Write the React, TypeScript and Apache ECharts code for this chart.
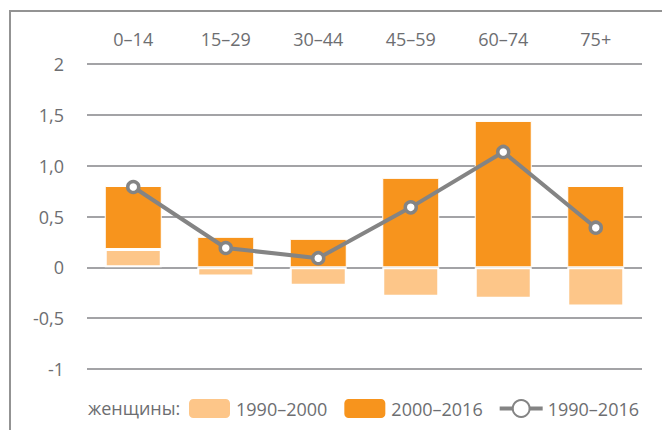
import React, { useEffect, useRef } from "react";
import * as echarts from "echarts";

const categories = ["0–14", "15–29", "30–44", "45–59", "60–74", "75+"];
const series1990_2000 = [0.18, -0.09, -0.18, -0.29, -0.31, -0.385];
const series2000_2016 = [0.62, 0.3, 0.28, 0.88, 1.44, 0.8];
const series1990_2016 = [0.79, 0.19, 0.09, 0.59, 1.135, 0.39];
const yTickLabels: Record<string, string> = {
  "2": "2",
  "1.5": "1,5",
  "1": "1,0",
  "0.5": "0,5",
  "0": "0",
  "-0.5": "-0,5",
  "-1": "-1",
};
const legendNames = ["1990–2000", "2000–2016", "1990–2016"];
const legendPrefix = "женщины:";

const TEXT = "#6d6e71";
const GRID = "#a3a3a6";
const FRAME = "#939393";
const LIGHT = "#fdc689";
const DARK = "#f7941d";
const LINE = "#848484";
const FONT = "Open Sans";

export default function App() {
  const ref = useRef<HTMLDivElement>(null);
  useEffect(() => {
    if (!ref.current) return;
    const chart = echarts.init(ref.current, null, { renderer: "svg" });
    chart.setOption({
      animation: false,
      backgroundColor: "#ffffff",
      textStyle: { fontFamily: FONT },
      grid: { left: 87, right: 20, top: 64, bottom: 61 },
      xAxis: {
        type: "category",
        position: "top",
        data: categories,
        axisLine: { show: false },
        axisTick: { show: false },
        axisLabel: { color: TEXT, fontSize: 18, fontFamily: FONT, margin: 16 },
        splitLine: { show: false },
      },
      yAxis: {
        type: "value",
        min: -1,
        max: 2,
        interval: 0.5,
        axisLine: { show: false },
        axisTick: { show: false },
        axisLabel: {
          color: TEXT,
          fontSize: 18,
          fontFamily: FONT,
          margin: 23,
          formatter: (v: number) => yTickLabels[String(v)] ?? String(v),
        },
        splitLine: { show: true, lineStyle: { color: GRID, width: 2 } },
      },
      legend: {
        left: 187,
        top: 397,
        padding: 0,
        itemWidth: 43,
        itemHeight: 21,
        itemGap: 15,
        data: legendNames,
        lineStyle: { width: 4, color: LINE },
        textStyle: { color: TEXT, fontSize: 18, fontFamily: FONT },
      },
      graphic: [
        {
          type: "line",
          shape: { x1: 9, y1: 11, x2: 662, y2: 11 },
          style: { stroke: FRAME, lineWidth: 2 },
        },
        {
          type: "line",
          shape: { x1: 10, y1: 11, x2: 10, y2: 430 },
          style: { stroke: FRAME, lineWidth: 2 },
        },
        {
          type: "text",
          left: 88,
          top: 397,
          style: {
            text: legendPrefix,
            fill: TEXT,
            font: `18px "${FONT}"`,
            lineHeight: 21,
          },
        },
      ],
      series: [
        {
          name: legendNames[0],
          type: "bar",
          stack: "total",
          barWidth: 57,
          data: series1990_2000,
          itemStyle: { color: LIGHT, borderColor: "#ffffff", borderWidth: 2 },
        },
        {
          name: legendNames[1],
          type: "bar",
          stack: "total",
          barWidth: 57,
          data: series2000_2016,
          itemStyle: { color: DARK, borderColor: "#ffffff", borderWidth: 1 },
        },
        {
          name: legendNames[2],
          type: "line",
          data: series1990_2016,
          symbol: "circle",
          symbolSize: 11,
          lineStyle: { color: LINE, width: 4 },
          itemStyle: { color: "#ffffff", borderColor: LINE, borderWidth: 3.5 },
          z: 5,
        },
      ],
    });
    return () => chart.dispose();
  }, []);
  return <div ref={ref} style={{ width: 662, height: 430, position: "absolute", left: 0, top: 0 }} />;
}
